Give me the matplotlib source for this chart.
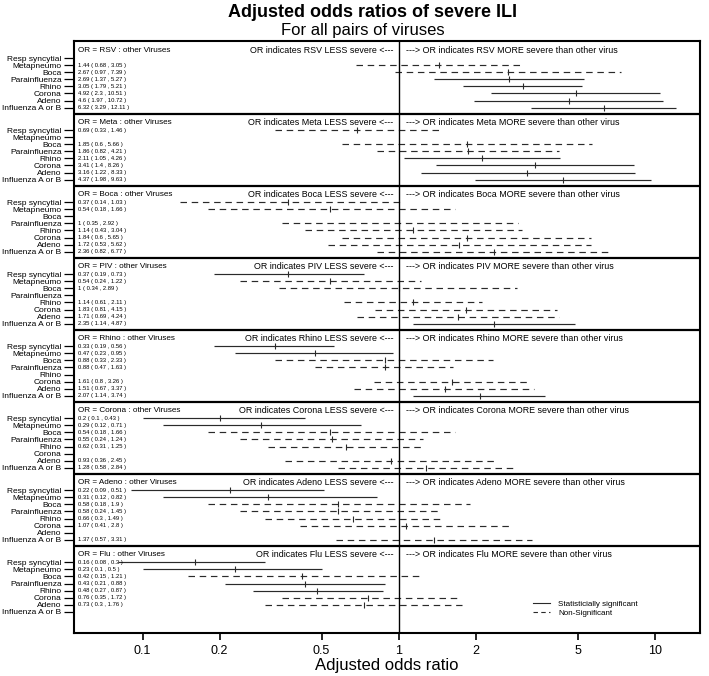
import matplotlib

matplotlib.use("Agg")
import matplotlib.pyplot as plt
import numpy as np
from matplotlib.lines import Line2D

plt.rcParams["font.family"] = ["Liberation Sans", "DejaVu Sans"]

VIRUSES = ["Resp syncytial", "Metapneumo", "Boca", "Parainfluenza",
           "Rhino", "Corona", "Adeno", "Influenza A or B"]
PANELS = ["RSV", "Meta", "Boca", "PIV", "Rhino", "Corona", "Adeno", "Flu"]

nan = np.nan
# rows: reference virus of the panel, columns: compared virus (VIRUSES order)
OR_EST = [
    [nan, 1.44, 2.67, 2.69, 3.05, 4.92, 4.6, 6.32],
    [0.69, nan, 1.85, 1.86, 2.11, 3.41, 3.16, 4.37],
    [0.37, 0.54, nan, 1, 1.14, 1.84, 1.72, 2.36],
    [0.37, 0.54, 1, nan, 1.14, 1.83, 1.71, 2.35],
    [0.33, 0.47, 0.88, 0.88, nan, 1.61, 1.51, 2.07],
    [0.2, 0.29, 0.54, 0.55, 0.62, nan, 0.93, 1.28],
    [0.22, 0.31, 0.58, 0.58, 0.66, 1.07, nan, 1.37],
    [0.16, 0.23, 0.42, 0.43, 0.48, 0.76, 0.73, nan],
]
OR_LOW = [
    [nan, 0.68, 0.97, 1.37, 1.79, 2.3, 1.97, 3.29],
    [0.33, nan, 0.6, 0.82, 1.05, 1.4, 1.22, 1.98],
    [0.14, 0.18, nan, 0.35, 0.43, 0.6, 0.53, 0.82],
    [0.19, 0.24, 0.34, nan, 0.61, 0.81, 0.69, 1.14],
    [0.19, 0.23, 0.33, 0.47, nan, 0.8, 0.67, 1.14],
    [0.1, 0.12, 0.18, 0.24, 0.31, nan, 0.36, 0.58],
    [0.09, 0.12, 0.18, 0.24, 0.3, 0.41, nan, 0.57],
    [0.08, 0.1, 0.15, 0.21, 0.27, 0.35, 0.3, nan],
]
OR_HIGH = [
    [nan, 3.05, 7.39, 5.27, 5.21, 10.51, 10.72, 12.11],
    [1.46, nan, 5.66, 4.21, 4.26, 8.26, 8.33, 9.63],
    [1.03, 1.66, nan, 2.92, 3.04, 5.65, 5.62, 6.77],
    [0.73, 1.22, 2.89, nan, 2.11, 4.15, 4.24, 4.87],
    [0.56, 0.95, 2.33, 1.63, nan, 3.26, 3.37, 3.74],
    [0.43, 0.71, 1.66, 1.24, 1.25, nan, 2.45, 2.84],
    [0.51, 0.82, 1.9, 1.45, 1.49, 2.8, nan, 3.31],
    [0.3, 0.5, 1.21, 0.88, 0.87, 1.72, 1.76, nan],
]

XTICKS = [0.1, 0.2, 0.5, 1, 2, 5, 10]
XTICK_LABELS = ["0.1", "0.2", "0.5", "1", "2", "5", "10"]

# vertical layout in row units
PANEL_STEP = 10.23
FIRST_ROW = 2.27
HEADER_ROW = 1.1
TOP_PAD = 0.15
BOTTOM_PAD = 3.03
LINE_COLOR = "#2a2a2a"


def row_y(panel: int, row: int) -> float:
    return panel * PANEL_STEP + FIRST_ROW + row


def main() -> None:
    fig = plt.figure(figsize=(7.09, 6.76), dpi=100)
    ax = fig.add_axes([0.1044, 0.0636, 0.8829, 0.8754])
    ax.set_xscale("log")
    ax.set_xlim(0.054, 15.0)
    n_panels = len(PANELS)
    ax.set_ylim(row_y(n_panels - 1, len(VIRUSES) - 1) + BOTTOM_PAD, -TOP_PAD)

    est = np.array(OR_EST)
    low = np.array(OR_LOW)
    high = np.array(OR_HIGH)
    ytr = ax.get_yaxis_transform()

    yticks, ylabels = [], []
    for p, name in enumerate(PANELS):
        top = p * PANEL_STEP
        if p > 0:
            ax.axhline(top, color="black", linewidth=1.6)
        ax.text(0.006, top + HEADER_ROW, f"OR = {name} : other Viruses",
                transform=ytr, fontsize=5.9, va="center", ha="left")
        ax.text(0.952, top + HEADER_ROW, f"OR indicates {name} LESS severe <---",
                fontsize=6.4, va="center", ha="right")
        ax.text(1.065, top + HEADER_ROW,
                f"---> OR indicates {name} MORE severe than other virus",
                fontsize=6.4, va="center", ha="left")
        for r, virus in enumerate(VIRUSES):
            y = row_y(p, r)
            yticks.append(y)
            ylabels.append(virus)
            if np.isnan(est[p, r]):
                continue
            sig = high[p, r] < 1 or low[p, r] > 1
            if sig:
                ax.plot([low[p, r], high[p, r]], [y, y], color=LINE_COLOR,
                        linewidth=0.85, solid_capstyle="butt")
            else:
                ax.plot([low[p, r], high[p, r]], [y, y], color=LINE_COLOR,
                        linewidth=0.85, dashes=(5.5, 4))
            ax.plot(est[p, r], y, marker="|", markersize=4.5,
                    markeredgewidth=0.8, color=LINE_COLOR)
            ax.text(0.006, y,
                    f"{est[p, r]:g} ( {low[p, r]:g} , {high[p, r]:g} )",
                    transform=ytr, fontsize=4.2, va="center", ha="left")

    ax.axvline(1, color="black", linewidth=1.0)

    ax.set_yticks(yticks)
    ax.set_yticklabels(ylabels, fontsize=6.0)
    ax.tick_params(axis="y", length=7, width=0.9, pad=2)
    ax.set_xticks(XTICKS)
    ax.set_xticklabels(XTICK_LABELS, fontsize=9)
    ax.xaxis.set_minor_locator(matplotlib.ticker.NullLocator())
    ax.tick_params(axis="x", length=5, width=1.2, pad=3.5)
    ax.set_xlabel("Adjusted odds ratio", fontsize=12, labelpad=1)
    for spine in ax.spines.values():
        spine.set_linewidth(1.5)

    handles = [
        Line2D([], [], color=LINE_COLOR, linewidth=0.8),
        Line2D([], [], color=LINE_COLOR, linewidth=0.8, dashes=(4, 3)),
    ]
    ax.legend(handles, ["Statisticially significant", "Non-Significant"],
              loc="center left", bbox_to_anchor=(0.726, 0.041), frameon=False,
              fontsize=5.8, handlelength=2.2, handletextpad=1.0,
              labelspacing=0.15, borderpad=0)

    fig.text(0.525, 0.982, "Adjusted odds ratios of severe ILI",
             fontsize=13, fontweight="bold", ha="center", va="center")
    fig.text(0.512, 0.955, "For all pairs of viruses",
             fontsize=12, ha="center", va="center")

    fig.savefig("out.png", dpi=100)
    plt.close(fig)


if __name__ == "__main__":
    main()
